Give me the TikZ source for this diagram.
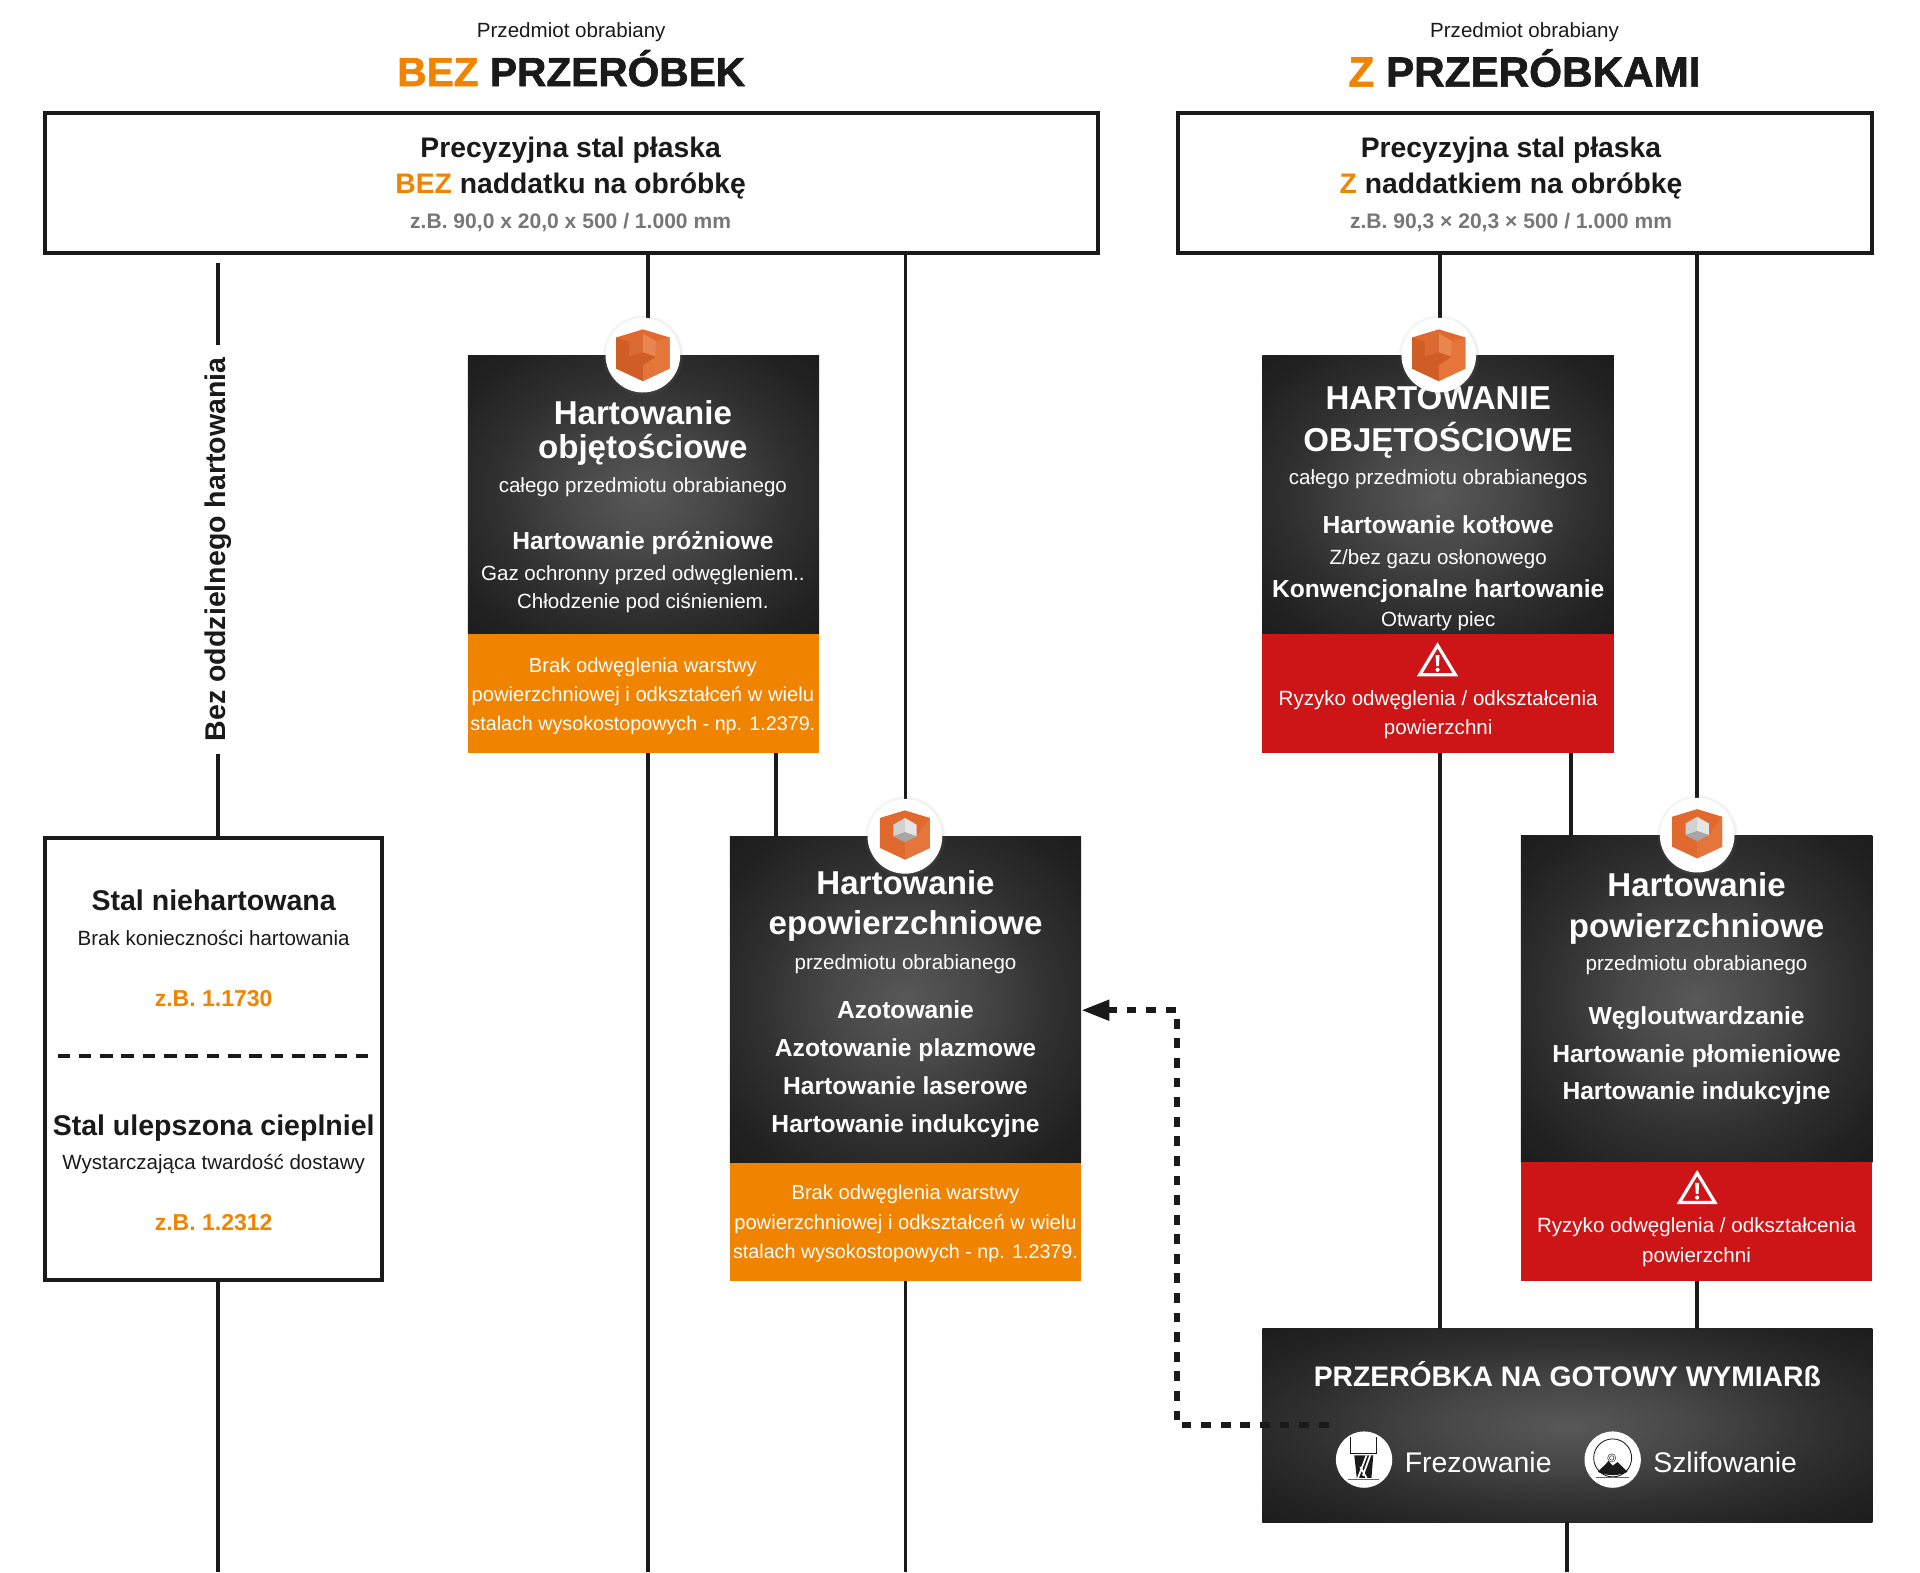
\documentclass[tikz,border=0pt]{standalone}
\usepackage{fontspec}
\setmainfont{Liberation Sans}
\newfontfamily\heavyfam[FakeBold=1.5]{Liberation Sans}
\usetikzlibrary{arrows.meta,shadows}
\definecolor{hInk}{HTML}{1A1A1A}
\definecolor{hOrange}{HTML}{F08400}
\definecolor{hRed}{HTML}{CD1417}
\definecolor{hGrey}{HTML}{777777}
\definecolor{hG0}{HTML}{585858}
\definecolor{hG1}{HTML}{464646}
\definecolor{hG2}{HTML}{303030}
\definecolor{hG3}{HTML}{222222}
\definecolor{hG4}{HTML}{1C1C1C}
\pgfdeclareradialshading{hGlowShade}{\pgfpointorigin}{color(0bp)=(hG0); color(11bp)=(hG1); color(21bp)=(hG2); color(30bp)=(hG3); color(36bp)=(hG4); color(50bp)=(hG4)}
\newcommand\fsTitle{\fontsize{33.2}{34}\selectfont\heavyfam\bfseries}
\newcommand\fsTitleB{\fontsize{34.5}{35}\selectfont\heavyfam\bfseries}
\newcommand\fsSmall{\fontsize{16.8}{17}\selectfont}
\newcommand\fsTag{\fontsize{16.5}{17}\selectfont}
\newcommand\fsTagB{\fontsize{16.1}{17}\selectfont}
\newcommand\fsHead{\fontsize{27}{27}\selectfont\bfseries}
\newcommand\fsSub{\fontsize{20.1}{20}\selectfont\bfseries}
\newcommand\fsSide{\fontsize{23.3}{24}\selectfont\bfseries}
\newcommand\fsNum{\fontsize{18.8}{19}\selectfont\bfseries}
\newcommand\fsSteel{\fontsize{23.3}{24}\selectfont\bfseries}
\newcommand\fsTop{\fontsize{23.1}{24}\selectfont\bfseries}
\newcommand\fsDim{\fontsize{17.2}{18}\selectfont\bfseries}
\newcommand\fsIcon{\fontsize{23.2}{24}\selectfont}
\definecolor{hCubeA}{HTML}{E2692E}
\definecolor{hCubeB}{HTML}{E4763C}
\definecolor{hCubeC}{HTML}{DA6A31}
\definecolor{hCubeD}{HTML}{D05C26}
\definecolor{hCubeE}{HTML}{E98650}
% cube with one corner cut away
\newcommand\cubeCorner[1]{\begin{scope}[shift={(#1)}]
	\fill[fill=hCubeA] (-21.8,-14.4)--(0,-21)--(21.8,-14.4)--(21.8,11)--(0,21.2)--(-21.8,11)--cycle;
	\fill[fill=hCubeD] (-21.8,-14.4)--(-11.4,-10.9)--(-11.4,1.4)--(0,8.2)--(0,21.2)--(-21.8,11)--cycle;
	\fill[fill=hCubeB] (0,21.2)--(21.8,11)--(21.8,-14.4)--(10.6,-11.4)--(10.3,1.4)--(0,8.2)--cycle;
	\fill[fill=hCubeC] (-11.4,-10.9)--(0,-17.7)--(0,-2.2)--(-11.4,1.4)--cycle;
	\fill[fill=hCubeE] (0,-17.7)--(10.6,-11.4)--(10.3,1.4)--(0,-2.2)--cycle;
	\fill[fill=hCubeD] (-11.4,1.4)--(0,-2.2)--(10.3,1.4)--(0,8.2)--cycle;
\end{scope}}
% cube with a grey hollow inside
\newcommand\cubeHollow[1]{\begin{scope}[shift={(#1)}]
	\fill[fill=hCubeA] (-20.4,-15)--(0,-21.2)--(20.4,-15)--(20.4,9.5)--(0,19)--(-20.4,9.5)--cycle;
	\fill[fill=hCubeB] (0,4.9)--(9.5,0)--(20.4,-15)--(20.4,9.5)--(0,19)--cycle;
	\fill[fill=black!18] (-9.5,-9.5)--(0,-15)--(0,-3.3)--(-9.5,0)--cycle;
	\fill[fill=black!10] (0,-15)--(9.5,-9.5)--(9.5,0)--(0,-3.3)--cycle;
	\fill[fill=black!35] (-9.5,0)--(0,-3.3)--(9.5,0)--(0,4.9)--cycle;
\end{scope}}
% warning sign
\newcommand\warnSign[1]{\begin{scope}[shift={(#1)}]
	\draw[white,line width=2.6pt,line join=miter] (0,-13)--(14.5,11)--(-14.5,11)--cycle;
	\fill[white] (-1.6,-5)--(1.6,-5)--(1.1,4)--(-1.1,4)--cycle (0,7) circle (1.7);
\end{scope}}
\tikzset{
	conn/.style={line width=3.2pt,draw=hInk},
	framebox/.style={rectangle,draw=hInk,line width=3.3pt,fill=white,inner sep=0pt,outer sep=0pt,anchor=north west},
	darkbox/.style={rectangle,inner sep=0pt,outer sep=0pt,anchor=north west,shading=hGlowShade},
	tagbox/.style={rectangle,inner sep=0pt,outer sep=0pt,anchor=north west,minimum width=287pt},
	badge/.style={circle,fill=white,minimum size=61pt,inner sep=0pt,circular drop shadow={shadow xshift=0pt,shadow yshift=0pt,shadow scale=1.1,opacity=.25}},
	inkline/.style={text=hInk,inner sep=0pt,yshift=-1.6pt,execute at begin node={\vphantom{Ag}}},
	darkline/.style={text=white,inner sep=0pt,yshift=-1.6pt,execute at begin node={\vphantom{Ag}}},
	iconcirc/.style={circle,fill=white,minimum size=46pt,inner sep=0pt},
}
\begin{document}
\begin{tikzpicture}[x=1pt,y=-1pt,line join=miter,>=Triangle]
	\useasboundingbox (0,0) rectangle (1568,1284);
	\def\xa{529.5} \def\xb{634} \def\xc{739.5}
	\def\xd{1176} \def\xe{1283} \def\xf{1386} \def\xg{1279.5}
	\def\yend{1284}
	% boxes
	\node[framebox,minimum width=860pt,minimum height=115pt] (topL) at (37,92) {};
	\node[framebox,minimum width=567pt,minimum height=115pt] (topR) at (962,92) {};
	\node[framebox,minimum width=275pt,minimum height=361pt] (stal) at (37,684) {};
	\node[darkbox,minimum width=287pt,minimum height=228pt] (objA) at (382,290) {};
	\node[tagbox,fill=hOrange,minimum height=97pt] (tagA) at (objA.south west) {};
	\node[darkbox,minimum width=287pt,minimum height=267pt] (epow) at (596,683) {};
	\node[tagbox,fill=hOrange,minimum height=96pt] (tagB) at (epow.south west) {};
	\node[darkbox,minimum width=287pt,minimum height=228pt] (objB) at (1031,290) {};
	\node[tagbox,fill=hRed,minimum height=97pt] (tagC) at (objB.south west) {};
	\node[darkbox,minimum width=287pt,minimum height=267pt] (powB) at (1242,682) {};
	\node[tagbox,fill=hRed,minimum height=97pt] (tagD) at (powB.south west) {};
	\node[darkbox,minimum width=498pt,minimum height=158pt] (finish) at (1031,1085) {};
	% connectors
	\coordinate (vstart) at (178,215);
	\node[inkline,rotate=90,inner xsep=10pt,font=\fsSide] (vlabel) at (178,447) {Bez oddzielnego hartowania};
	\draw[conn] (vstart) -- (vlabel);
	\draw[conn] (vlabel) -- (stal.north -| vstart);
	\draw[conn] (stal.south -| vstart) -- (178,\yend);
	\draw[conn] (topL.south -| \xa,0) -- (objA.north -| \xa,0);
	\draw[conn] (tagA.south -| \xa,0) -- (\xa,\yend);
	\draw[conn] (tagA.south -| \xb,0) -- (epow.north -| \xb,0);
	\draw[conn] (topL.south -| \xc,0) -- (epow.north -| \xc,0);
	\draw[conn] (tagB.south -| \xc,0) -- (\xc,\yend);
	\draw[conn] (topR.south -| \xd,0) -- (objB.north -| \xd,0);
	\draw[conn] (tagC.south -| \xd,0) -- (finish.north -| \xd,0);
	\draw[conn] (tagC.south -| \xe,0) -- (powB.north -| \xe,0);
	\draw[conn] (topR.south -| \xf,0) -- (powB.north -| \xf,0);
	\draw[conn] (tagD.south -| \xf,0) -- (finish.north -| \xf,0);
	\draw[conn] (finish.south -| \xg,0) -- (\xg,\yend);
	\coordinate (backStart) at ([xshift=54pt]finish.west);
	\coordinate (backBend) at (961,825);
	\coordinate (backEnd) at ([yshift=-8.5pt]epow.east);
	\draw[line width=5pt,draw=hInk,dash pattern=on 8pt off 8pt,-{Triangle[length=23pt,width=16pt,fill=hInk]}] (backStart) -| (backBend) -- (backEnd);
	\draw[line width=3.3pt,draw=hInk,dash pattern=on 10.3pt off 7.1pt] (47,862) -- (302,862);
	% headers
	\node[inkline,font=\fsSmall] (subL) at (466.5,25) {Przedmiot obrabiany};
	\node[inkline,font=\fsTitle] (headL) at (466.5,57.5) {{\color{hOrange}BEZ} PRZERÓBEK};
	\node[inkline,font=\fsSmall] (subR) at (1245,25) {Przedmiot obrabiany};
	\node[inkline,font=\fsTitleB] (headR) at (1245,57.5) {{\color{hOrange}Z} PRZERÓBKAMI};
	\node[inkline,font=\fsTop] (stalL) at (466,121) {Precyzyjna stal płaska};
	\node[inkline,font=\fsTop] (naddL) at (466,150) {{\color{hOrange}BEZ} naddatku na obróbkę};
	\node[inkline,text=hGrey,font=\fsDim] (wymL) at (466,181) {z.B. 90,0 x 20,0 x 500 / 1.000 mm};
	\node[inkline,font=\fsTop] (stalR) at (1234,121) {Precyzyjna stal płaska};
	\node[inkline,font=\fsTop] (naddR) at (1234,150) {{\color{hOrange}Z} naddatkiem na obróbkę};
	\node[inkline,text=hGrey,font=\fsDim] (wymR) at (1234,181) {z.B. 90,3 × 20,3 × 500 / 1.000 mm};
	% steel box
	\foreach \y/\f/\t in {736/\fsSteel/Stal niehartowana,766/\fsSmall/Brak konieczności hartowania,920/\fsSteel/Stal ulepszona cieplniel,949/\fsSmall/Wystarczająca twardość dostawy}
		\node[inkline,font=\f] (st\y) at (174.5,\y) {\t};
	\foreach \y/\t in {816/z.B. 1.1730,999/z.B. 1.2312}
		\node[inkline,text=hOrange,font=\fsNum] (nr\y) at (174.5,\y) {\t};
	% dark boxes
	\foreach \y/\f/\t in {338/\fsHead/Hartowanie,366/\fsHead/objętościowe,396/\fsSmall/całego przedmiotu obrabianego,442/\fsSub/Hartowanie próżniowe,468/\fsSmall/Gaz ochronny przed odwęgleniem..,491/\fsSmall/Chłodzenie pod ciśnieniem.,543/\fsTag/Brak odwęglenia warstwy,567/\fsTag/powierzchniowej i odkształceń w wielu,591/\fsTagB/stalach wysokostopowych - np. 1.2379.}
		\node[darkline,font=\f] (a\y) at (525,\y) {\t};
	\foreach \y/\f/\t in {722/\fsHead/Hartowanie,755/\fsHead/epowierzchniowe,786/\fsSmall/przedmiotu obrabianego,825/\fsSub/Azotowanie,856/\fsSub/Azotowanie plazmowe,887/\fsSub/Hartowanie laserowe,918/\fsSub/Hartowanie indukcyjne,974/\fsTag/Brak odwęglenia warstwy,998/\fsTag/powierzchniowej i odkształceń w wielu,1022/\fsTagB/stalach wysokostopowych - np. 1.2379.}
		\node[darkline,font=\f] (b\y) at (739.5,\y) {\t};
	\foreach \y/\f/\t in {326/\fsHead/HARTOWANIE,358/\fsHead/OBJĘTOŚCIOWE,390/\fsSmall/całego przedmiotu obrabianegos,429/\fsSub/Hartowanie kotłowe,455/\fsSmall/{Z/bez gazu osłonowego},481/\fsSub/Konwencjonalne hartowanie,506/\fsSmall/Otwarty piec,570/\fsSmall/{Ryzyko odwęglenia / odkształcenia},594/\fsSmall/powierzchni}
		\node[darkline,font=\f] (c\y) at (1174.5,\y) {\t};
	\foreach \y/\f/\t in {724/\fsHead/Hartowanie,757/\fsHead/powierzchniowe,787/\fsSmall/przedmiotu obrabianego,830/\fsSub/Węgloutwardzanie,861/\fsSub/Hartowanie płomieniowe,891/\fsSub/Hartowanie indukcyjne,1001/\fsSmall/{Ryzyko odwęglenia / odkształcenia},1025/\fsSmall/powierzchni}
		\node[darkline,font=\f] (d\y) at (1385.5,\y) {\t};
	\warnSign{1174,540}
	\warnSign{1386,971}
	% badges
	\node[badge] (bdgA) at (525,290) {};
	\node[badge] (bdgB) at (739,683) {};
	\node[badge] (bdgC) at (1175,290) {};
	\node[badge] (bdgD) at (1386,682) {};
	\cubeCorner{bdgA.center}
	\cubeHollow{bdgB.center}
	\cubeCorner{bdgC.center}
	\cubeHollow{bdgD.center}
	% finishing box
	\node[darkline,font=\fsTop] (finT) at (1280,1123) {PRZERÓBKA NA GOTOWY WYMIARß};
	\node[iconcirc] (icF) at (1114,1192) {};
	\node[iconcirc] (icS) at (1317,1192) {};
	\node[darkline,font=\fsIcon,anchor=west] (frez) at (1147,1195) {Frezowanie};
	\node[darkline,font=\fsIcon,anchor=west] (szl) at (1350,1195) {Szlifowanie};
	\begin{scope}[shift={(icF.center)}]
		\draw[hInk,line width=.7pt,fill=white] (-10.9,-18.5) -- (-10.9,-4.9) -- (10.1,-4.9) -- (10.1,-18.5);
		\fill[hInk] (-8,-3.5) -- (7.5,-3.5) -- (6,15) -- (-6,15) -- cycle;
		\draw[white,line width=1.4pt] (-5,15) -- (2,-3.5) (2,15) -- (-3,6) (5,-3.5) -- (-1,13);
		\draw[black!60,line width=.8pt] (-12.8,16) -- (12.2,16);
	\end{scope}
	\begin{scope}[shift={(icS.center)}]
		\draw[hInk,line width=.7pt] (0,-1.4) circle (15.5);
		\draw[black!70,line width=.5pt] (-.8,-1.4) circle (3.3) (-.8,-1.4) circle (1.8);
		\fill[hInk] (-12.2,10) -- (-5.5,3.5) -- (-3.5,1) -- (0,5) -- (4,2) -- (12.2,10) .. controls (5,13.5) and (-5,13.5) .. (-12.2,10) -- cycle;
		\draw[black!60,line width=.8pt] (-13.6,14.7) -- (13.3,14.7);
	\end{scope}
\end{tikzpicture}
\end{document}
